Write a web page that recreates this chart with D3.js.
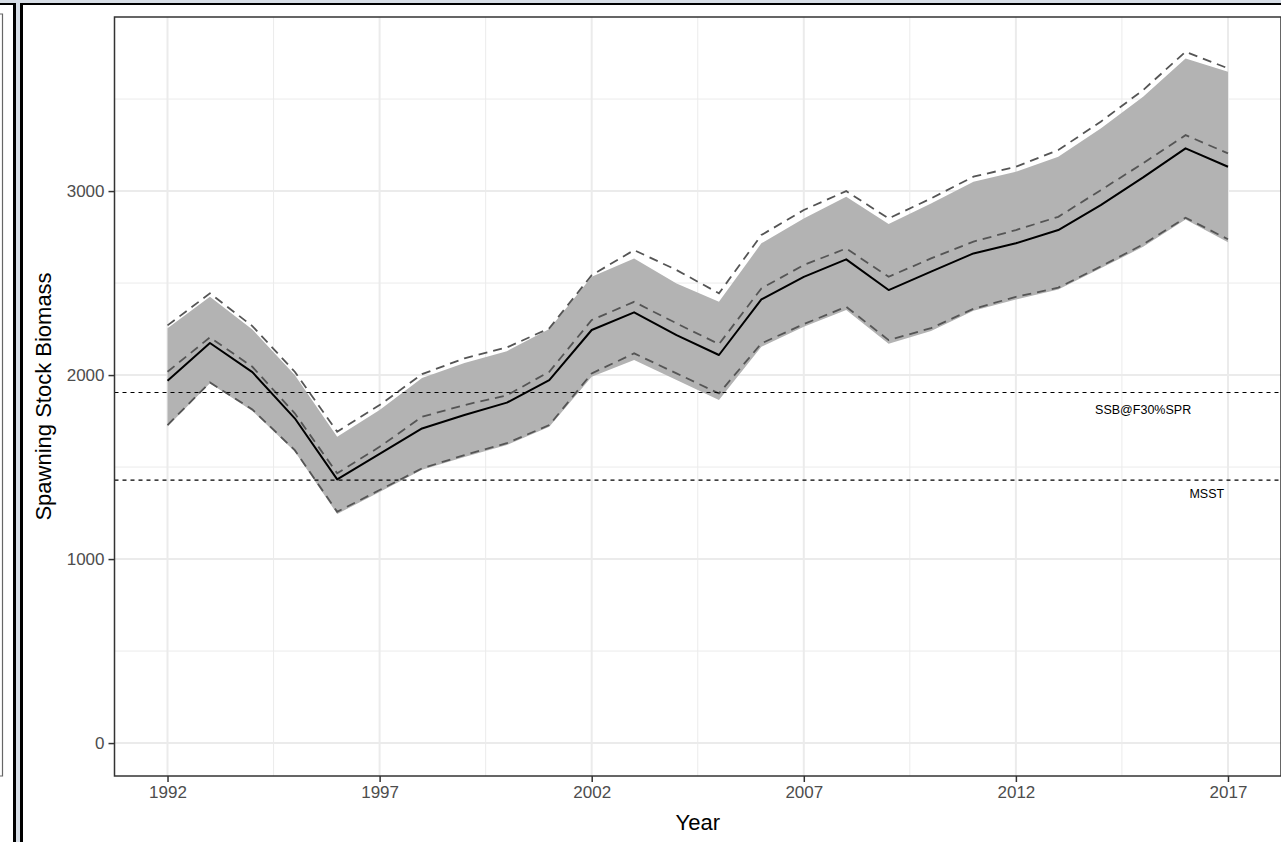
<!DOCTYPE html>
<html>
<head>
<meta charset="utf-8">
<script src="https://cdn.jsdelivr.net/npm/d3@7"></script>
<style>
  body { margin: 0; background: #fff; }
  svg { display: block; font-family: "Liberation Sans", Arial, sans-serif; }
</style>
</head>
<body>
<svg></svg>
<script>
const years = d3.range(1992, 2018);
const median   = [1969, 2174, 2016, 1765, 1433, 1572, 1710, 1783, 1850, 1973, 2245, 2341, 2217, 2109, 2411, 2534, 2629, 2462, 2562, 2661, 2716, 2788, 2924, 3074, 3232, 3132];
const midDash  = [2018, 2205, 2045, 1792, 1466, 1610, 1773, 1837, 1890, 2018, 2299, 2398, 2281, 2168, 2471, 2598, 2688, 2534, 2634, 2725, 2788, 2860, 3005, 3151, 3304, 3205];
const hiDash   = [2270, 2444, 2266, 2018, 1692, 1837, 2005, 2091, 2150, 2254, 2543, 2679, 2571, 2444, 2761, 2897, 3000, 2851, 2960, 3078, 3132, 3223, 3377, 3549, 3757, 3667];
const loDash   = [1728, 1960, 1813, 1592, 1257, 1375, 1493, 1565, 1630, 1728, 2009, 2118, 2009, 1900, 2172, 2277, 2371, 2190, 2255, 2360, 2425, 2475, 2590, 2710, 2855, 2738];
const ribbonHi = [2254, 2426, 2248, 2000, 1665, 1810, 1984, 2065, 2130, 2250, 2534, 2634, 2498, 2398, 2716, 2851, 2969, 2821, 2933, 3051, 3105, 3187, 3340, 3513, 3721, 3649];
const ribbonLo = [1720, 1955, 1805, 1585, 1245, 1365, 1485, 1555, 1620, 1719, 1991, 2082, 1973, 1864, 2154, 2263, 2353, 2170, 2240, 2350, 2410, 2465, 2580, 2697, 2845, 2722];
const refLines = [
  { label: "SSB@F30%SPR", value: 1905, labelYear: 2015 },
  { label: "MSST", value: 1429, labelYear: 2016.5 }
];
const xTicks = [1992, 1997, 2002, 2007, 2012, 2017];
const xMinor = [1994.5, 1999.5, 2004.5, 2009.5, 2014.5];
const yTicks = [0, 1000, 2000, 3000];
const yMinor = [500, 1500, 2500, 3500];

const W = 1281, H = 842;
const svg = d3.select("svg").attr("width", W).attr("height", H);

// window frame around the plot
const frame = svg.append("g");
frame.append("rect").attr("x", 0).attr("y", 0).attr("width", W).attr("height", 3).attr("fill", "#d6dde6");
frame.append("rect").attr("x", 16).attr("y", 0).attr("width", 4).attr("height", H).attr("fill", "#d6dde6");
frame.append("rect").attr("x", 0).attr("y", 3).attr("width", 16).attr("height", 2).attr("fill", "#000");
frame.append("rect").attr("x", 20).attr("y", 3).attr("width", W - 20).attr("height", 2).attr("fill", "#000");
frame.append("rect").attr("x", 13).attr("y", 3).attr("width", 3).attr("height", H).attr("fill", "#000");
frame.append("rect").attr("x", 20).attr("y", 3).attr("width", 3).attr("height", H).attr("fill", "#000");
frame.append("path").attr("d", "M0,14H2.5V776H0").attr("fill", "none").attr("stroke", "#666").attr("stroke-width", 1.2);

const pLeft = 114.5, pRight = 1281, pTop = 17, pBottom = 776;
const x = d3.scaleLinear().domain([1990.75, 2018.25]).range([pLeft, pRight]);
const y = d3.scaleLinear().domain([-179, 3946]).range([pBottom, pTop]);

svg.append("clipPath").attr("id", "panel")
  .append("rect").attr("x", pLeft).attr("y", pTop).attr("width", pRight - pLeft).attr("height", pBottom - pTop);

const g = svg.append("g").attr("clip-path", "url(#panel)");

// grid
g.selectAll(".xminor").data(xMinor).join("line")
  .attr("x1", d => x(d)).attr("x2", d => x(d)).attr("y1", pTop).attr("y2", pBottom)
  .attr("stroke", "#ebebeb").attr("stroke-width", 1);
g.selectAll(".yminor").data(yMinor).join("line")
  .attr("y1", d => y(d)).attr("y2", d => y(d)).attr("x1", pLeft).attr("x2", pRight)
  .attr("stroke", "#ebebeb").attr("stroke-width", 1);
g.selectAll(".xmajor").data(xTicks).join("line")
  .attr("x1", d => x(d)).attr("x2", d => x(d)).attr("y1", pTop).attr("y2", pBottom)
  .attr("stroke", "#ebebeb").attr("stroke-width", 2);
g.selectAll(".ymajor").data(yTicks).join("line")
  .attr("y1", d => y(d)).attr("y2", d => y(d)).attr("x1", pLeft).attr("x2", pRight)
  .attr("stroke", "#ebebeb").attr("stroke-width", 2);

const rows = years.map((yr, i) => ({
  yr, med: median[i], mid: midDash[i], hi: hiDash[i], lo: loDash[i], rhi: ribbonHi[i], rlo: ribbonLo[i]
}));

g.append("path").datum(rows)
  .attr("fill", "#b3b3b3")
  .attr("d", d3.area().x(d => x(d.yr)).y0(d => y(d.rlo)).y1(d => y(d.rhi)));

const line = key => d3.line().x(d => x(d.yr)).y(d => y(d[key]));

["hi", "mid", "lo"].forEach(k => {
  g.append("path").datum(rows)
    .attr("fill", "none")
    .attr("stroke", "#555555")
    .attr("stroke-width", 1.8)
    .attr("stroke-dasharray", "9,6")
    .attr("d", line(k));
});

g.append("path").datum(rows)
  .attr("fill", "none")
  .attr("stroke", "#000")
  .attr("stroke-width", 2)
  .attr("stroke-linejoin", "round")
  .attr("d", line("med"));

// reference lines
g.selectAll(".ref").data(refLines).join("line")
  .attr("x1", pLeft).attr("x2", pRight)
  .attr("y1", d => y(d.value)).attr("y2", d => y(d.value))
  .attr("stroke", "#000").attr("stroke-width", 1.1).attr("stroke-dasharray", "4,4");

g.selectAll(".reflabel").data(refLines).join("text")
  .attr("x", d => x(d.labelYear))
  .attr("y", d => y(d.value * 0.95))
  .attr("dy", "0.35em")
  .attr("text-anchor", "middle")
  .attr("font-size", 12.5)
  .attr("fill", "#000")
  .text(d => d.label);

// panel border
svg.append("rect").attr("x", pLeft).attr("y", pTop).attr("width", pRight - pLeft).attr("height", pBottom - pTop)
  .attr("fill", "none").attr("stroke", "#333").attr("stroke-width", 1.5);

// axes
const xAxis = svg.append("g").attr("transform", `translate(0,${pBottom})`)
  .call(d3.axisBottom(x).tickValues(xTicks).tickFormat(d3.format("d")).tickSize(6).tickPadding(4));
const yAxis = svg.append("g").attr("transform", `translate(${pLeft},0)`)
  .call(d3.axisLeft(y).tickValues(yTicks).tickFormat(d3.format("d")).tickSize(6).tickPadding(4));
[xAxis, yAxis].forEach(a => {
  a.select(".domain").remove();
  a.selectAll(".tick line").attr("stroke", "#333").attr("stroke-width", 1.5);
  a.selectAll(".tick text").attr("fill", "#4d4d4d").attr("font-size", 17)
    .attr("font-family", "Liberation Sans, Arial, sans-serif");
});

svg.append("text")
  .attr("x", (pLeft + pRight) / 2).attr("y", 830)
  .attr("text-anchor", "middle").attr("font-size", 22).attr("fill", "#000")
  .text("Year");

svg.append("text")
  .attr("transform", `translate(51,${(pTop + pBottom) / 2}) rotate(-90)`)
  .attr("text-anchor", "middle").attr("font-size", 22).attr("fill", "#000")
  .text("Spawning Stock Biomass");
</script>
</body>
</html>
